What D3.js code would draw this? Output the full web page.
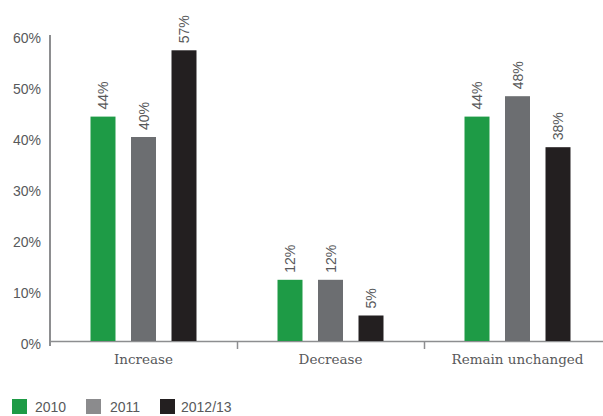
<!DOCTYPE html>
<html>
<head>
<meta charset="utf-8">
<script src="https://cdn.jsdelivr.net/npm/d3@7"></script>
<style>
  html, body { margin: 0; padding: 0; background: #fff; }
  svg { display: block; }
</style>
</head>
<body>
<svg id="chart" width="603" height="416"></svg>
<script>
// Survey responses by category and year (percent)
const categories = ["Increase", "Decrease", "Remain unchanged"];
const seriesNames = ["2010", "2011", "2012/13"];
const values2010 = [44, 12, 44];
const values2011 = [40, 12, 48];
const values2012 = [57, 5, 38];
const yTicks = [0, 10, 20, 30, 40, 50, 60];

const seriesValues = [values2010, values2011, values2012];
const barColors = ["#1e9b46", "#6c6e71", "#231f20"];
const legendColors = ["#1e9b46", "#8b8b8d", "#231f20"];

const svg = d3.select("#chart");
const plotLeft = 50, plotRight = 611, plotTop = 35, plotBase = 341;

const x0 = d3.scaleBand().domain(categories).range([plotLeft, plotRight]);
const groupW = 121.5;
const x1 = d3.scaleBand().domain(seriesNames).range([0, groupW])
  .paddingInner(0.383).paddingOuter(0.1915);
const y = d3.scaleLinear().domain([0, 60]).range([plotBase, plotTop]);

const axisColor = "#8d8e90";
const textColor = "#58595b";

// y axis line and labels
svg.append("line").attr("x1", plotLeft).attr("x2", plotLeft)
  .attr("y1", plotTop).attr("y2", plotBase + 5)
  .attr("stroke", axisColor).attr("stroke-width", 2);
svg.append("g").selectAll("text").data(yTicks).join("text")
  .attr("x", 41).attr("y", d => y(d) + 3)
  .attr("text-anchor", "end").attr("dominant-baseline", "central")
  .attr("font-family", "Liberation Sans, Arial, sans-serif")
  .attr("font-size", 14).attr("fill", textColor)
  .text(d => d + "%");

// x axis line with separators between categories
svg.append("line").attr("x1", plotLeft).attr("x2", 603)
  .attr("y1", plotBase + 0.5).attr("y2", plotBase + 0.5)
  .attr("stroke", axisColor).attr("stroke-width", 1.5);
svg.append("g").selectAll("line").data(categories.slice(1)).join("line")
  .attr("x1", d => Math.round(x0(d)) + 0.5).attr("x2", d => Math.round(x0(d)) + 0.5)
  .attr("y1", plotBase).attr("y2", plotBase + 8)
  .attr("stroke", axisColor).attr("stroke-width", 1.5);
svg.append("g").selectAll("text").data(categories).join("text")
  .attr("x", d => x0(d) + x0.bandwidth() / 2).attr("y", plotBase + 18)
  .attr("text-anchor", "middle").attr("dominant-baseline", "central")
  .attr("font-family", "DejaVu Serif, serif")
  .attr("font-size", 13.5).attr("fill", textColor)
  .text(d => d);

// bars and rotated value labels
const groups = svg.append("g").selectAll("g").data(categories).join("g")
  .attr("transform", d => `translate(${x0(d) + x0.bandwidth() / 2 - groupW / 2},0)`);

groups.each(function(cat, ci) {
  const g = d3.select(this);
  const rows = seriesNames.map((s, si) => ({ s, si, v: seriesValues[si][ci] }));
  g.selectAll("rect").data(rows).join("rect")
    .attr("x", d => x1(d.s)).attr("width", x1.bandwidth())
    .attr("y", d => y(d.v)).attr("height", d => plotBase - y(d.v))
    .attr("fill", d => barColors[d.si]);
  g.selectAll("text").data(rows).join("text")
    .attr("transform", d => `translate(${x1(d.s) + x1.bandwidth() / 2},${y(d.v) - 7}) rotate(-90)`)
    .attr("text-anchor", "start").attr("dominant-baseline", "central")
    .attr("font-family", "Liberation Sans, Arial, sans-serif")
    .attr("font-size", 14).attr("fill", textColor)
    .text(d => d.v + "%");
});

// legend
const legend = svg.append("g").selectAll("g").data(seriesNames).join("g")
  .attr("transform", (d, i) => `translate(${[12, 86, 160][i]},399)`);
legend.append("rect").attr("width", 15).attr("height", 15)
  .attr("fill", (d, i) => legendColors[i]);
legend.append("text").attr("x", (d, i) => [23, 24, 21][i]).attr("y", 8)
  .attr("dominant-baseline", "central")
  .attr("font-family", "Liberation Sans, Arial, sans-serif")
  .attr("font-size", 14).attr("fill", textColor)
  .text(d => d);
</script>
</body>
</html>
